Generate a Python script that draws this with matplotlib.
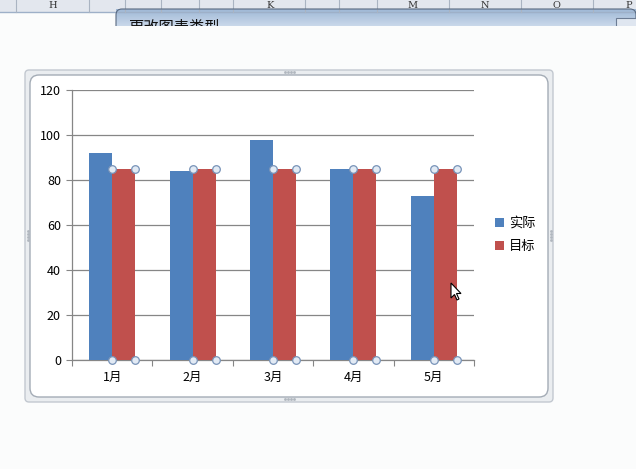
import matplotlib.pyplot as plt
from matplotlib.patches import FancyBboxPatch, Rectangle, Polygon
import numpy as np

plt.rcParams['font.family'] = ['Noto Sans CJK SC', 'DejaVu Sans']

months = ['1月', '2月', '3月', '4月', '5月']
actual = [92, 84, 98, 85, 73]
target = [85, 85, 85, 85, 85]
series_names = ['实际', '目标']
y_ticks = [0, 20, 40, 60, 80, 100, 120]

col_letters = ['H', 'K', 'M', 'N', 'O', 'P']
col_letter_x = [53, 270, 413, 485, 556, 629]
col_sep_x = [16, 89, 125, 161, 199, 233, 305, 339, 377, 449, 521, 593]

BLUE = '#4f81bd'
RED = '#c0504d'
GRID = '#868686'

W, H = 636, 469
fig = plt.figure(figsize=(W / 100, H / 100), dpi=100)
fig.patch.set_facecolor('#fbfcfc')

# background layer in pixel coordinates (y pointing down)
bg = fig.add_axes([0, 0, 1, 1], zorder=0)
bg.set_xlim(0, W)
bg.set_ylim(H, 0)
bg.axis('off')

# spreadsheet column header strip
bg.add_patch(Rectangle((0, 0), W, 12, facecolor='#e3e7ee', edgecolor='none'))
bg.plot([0, W], [12, 12], color='#9eb0c8', lw=1)
for sx in col_sep_x:
    bg.plot([sx, sx], [0, 12], color='#aab4c2', lw=0.8)
for lx, lt in zip(col_letter_x, col_letters):
    bg.text(lx, 6, lt, ha='center', va='center', fontsize=7, color='#333333',
            family='DejaVu Serif')

# dialog title bar, cut off at the bottom
grad = np.linspace(0, 1, 64).reshape(-1, 1)
bg.imshow(grad, extent=(116, W, 26, 9), cmap=plt.matplotlib.colors.LinearSegmentedColormap.from_list(
    'tb', ['#9fb8d6', '#c9d8ea']), aspect='auto', zorder=1)
bg.add_patch(FancyBboxPatch((116, 9), W - 116, 30, boxstyle='round,pad=0,rounding_size=6',
                            facecolor='none', edgecolor='#5a6a80', lw=0.8, zorder=2))
bg.text(128, 31, '更改图表类型', fontsize=11, color='#111111', va='baseline', zorder=2)
bg.add_patch(Rectangle((616, 18), 22, 10, facecolor='#dfe6f0', edgecolor='#6c7c94', lw=0.8, zorder=2))
bg.add_patch(Rectangle((0, 26), W, H - 26, facecolor='#fbfcfc', edgecolor='none', zorder=3))

# chart frame
bg.add_patch(FancyBboxPatch((25, 70), 528, 332, boxstyle='round,pad=0,rounding_size=4',
                            facecolor='#eaedf0', edgecolor='#c2c8d0', lw=1, zorder=4))
bg.add_patch(FancyBboxPatch((30, 75), 518, 322, boxstyle='round,pad=0,rounding_size=9',
                            facecolor='white', edgecolor='#a4acb6', lw=1, zorder=5))
for cx, cy, horiz in [(289, 72.5, True), (289, 399.5, True), (27.5, 236, False), (550.5, 236, False)]:
    for k in range(-3, 4, 2):
        px, py = (cx + k * 1.5, cy) if horiz else (cx, cy + k * 1.5)
        bg.plot(px, py, 's', ms=0.9, color='#b0b6be', zorder=6)

# plot area
ax = fig.add_axes([72 / W, (H - 360) / H, 402 / W, 270 / H], zorder=2)
ax.patch.set_alpha(0)
x = np.arange(len(months))
bw = 1 / 3.5
ax.bar(x - bw / 2, actual, bw, color=BLUE, zorder=3, label=series_names[0])
ax.bar(x + bw / 2, target, bw, color=RED, zorder=3, label=series_names[1])

ax.set_xlim(-0.5, len(months) - 0.5)
ax.set_ylim(0, 120)
ax.set_yticks(y_ticks)
ax.yaxis.grid(True, color=GRID, lw=0.9, zorder=1)
ax.set_axisbelow(True)
ax.set_xticks(np.arange(len(months) + 1) - 0.5)
ax.set_xticklabels([])
ax.set_xticks(x, minor=True)
ax.set_xticklabels(months, minor=True, fontsize=9)
ax.tick_params(axis='x', which='minor', length=0, pad=8)
ax.tick_params(axis='x', which='major', length=4, color=GRID, direction='out')
ax.tick_params(axis='y', length=4, color=GRID, direction='out', labelsize=9, pad=4)
for s in ['top', 'right']:
    ax.spines[s].set_visible(False)
for s in ['left', 'bottom']:
    ax.spines[s].set_color(GRID)
    ax.spines[s].set_linewidth(0.9)

# selection handles on the target series
for xi, tv in zip(x, target):
    hx = [xi, xi + bw, xi, xi + bw]
    hy = [tv, tv, 0, 0]
    ax.scatter(hx, hy, s=30, facecolor='#e2eaf4', edgecolor='#7893b8', lw=0.9,
               zorder=5, clip_on=False)

leg = ax.legend(loc='center left', bbox_to_anchor=(1.022, 0.463), frameon=False, fontsize=9.5,
                handlelength=0.7, handleheight=0.7, handletextpad=0.4, labelspacing=0.75)

# mouse pointer
fg = fig.add_axes([0, 0, 1, 1], zorder=4)
fg.set_xlim(0, W)
fg.set_ylim(H, 0)
fg.axis('off')
cur = np.array([[0, 0], [0, 15], [3.5, 11.5], [6, 17], [8, 16], [5.5, 10.5], [10, 10.5]])
fg.add_patch(Polygon(cur + [451, 283], closed=True, facecolor='white', edgecolor='black', lw=0.8))

fig.savefig('out.png', dpi=100, facecolor=fig.get_facecolor())
